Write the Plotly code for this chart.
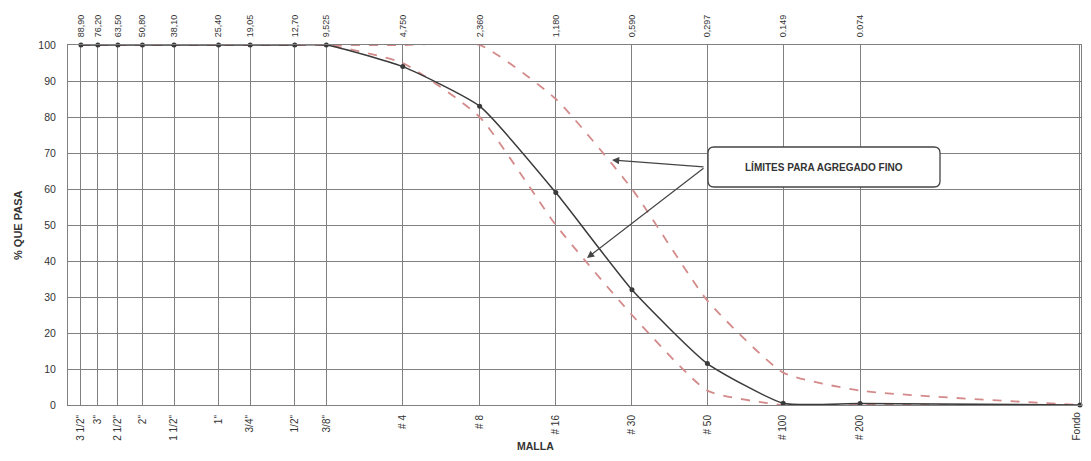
import plotly.graph_objects as go

# Sieve openings (mm) - "Fondo" (pan) placed at 0.01 on the log axis
sizes = [88.90, 76.20, 63.50, 50.80, 38.10, 25.40, 19.05, 12.70, 9.525,
         4.750, 2.360, 1.180, 0.590, 0.297, 0.149, 0.074, 0.01]
size_labels = ["88,90", "76,20", "63,50", "50,80", "38,10", "25,40", "19,05",
               "12,70", "9,525", "4,750", "2,360", "1,180", "0,590", "0,297",
               "0.149", "0.074", ""]
sieve_labels = ['3 1/2"', '3"', '2 1/2"', '2"', '1 1/2"', '1"', '3/4"', '1/2"',
                '3/8"', '# 4', '# 8', '# 16', '# 30', '# 50', '# 100', '# 200',
                'Fondo']

# % passing
passing = [100, 100, 100, 100, 100, 100, 100, 100, 100,
           94, 83, 59, 32, 11.5, 0.5, 0.4, 0]
upper_limit = [100, 100, 100, 100, 100, 100, 100, 100, 100,
               100, 100, 85, 60, 29, 9, 4, 0]
lower_limit = [100, 100, 100, 100, 100, 100, 100, 100, 100,
               95, 80, 50, 25, 4, 0, 0, 0]

annot_text = "LÍMITES PARA AGREGADO FINO"

FONT = "Liberation Sans, Arial, sans-serif"
GRID = "#808080"
LIMIT_COLOR = "#d48a8a"
MAIN_COLOR = "#3a3a3a"
TXT = "#333333"

# page body has an 8px margin; keep the figure inside the window to avoid scrollbars
OFF = 8
W, H = 1091 - 2 * OFF, 461 - 2 * OFF
PLOT_L, PLOT_R, PLOT_T, PLOT_B = 68, 1081, 45, 405   # window pixels
PW, PH = PLOT_R - PLOT_L, PLOT_B - PLOT_T
L, T = PLOT_L - OFF, PLOT_T - OFF

fig = go.Figure()

for lim in (upper_limit, lower_limit):
    fig.add_trace(go.Scatter(x=sizes, y=lim, mode="lines",
                             line=dict(color=LIMIT_COLOR, width=1.8, dash="dash",
                                       shape="spline", smoothing=0.5),
                             hoverinfo="skip", showlegend=False, cliponaxis=False))
fig.add_trace(go.Scatter(x=sizes, y=passing, mode="lines+markers",
                         line=dict(color=MAIN_COLOR, width=1.5, shape="spline", smoothing=0.5),
                         marker=dict(color=MAIN_COLOR, size=5),
                         showlegend=False, cliponaxis=False))
# dummy trace for the top axis
fig.add_trace(go.Scatter(x=sizes, y=passing, xaxis="x2", mode="markers",
                         marker=dict(opacity=0), hoverinfo="skip", showlegend=False))

axis_common = dict(type="log", range=[2, -2.004], tickvals=sizes, tickangle=-90,
                   showline=True, linecolor=GRID, zeroline=False,
                   ticks="outside", ticklen=5, tickcolor="rgba(0,0,0,0)")

# last bottom label (at the right edge) is drawn as an annotation so it is not dropped
bottom_ticktext = sieve_labels[:-1] + [""]

fig.update_layout(
    width=W, height=H,
    margin=dict(l=L, r=W - L - PW, t=T, b=H - T - PH),
    paper_bgcolor="white", plot_bgcolor="white",
    font=dict(family=FONT, color=TXT),
    xaxis=dict(**axis_common, ticktext=bottom_ticktext, showgrid=True, gridcolor=GRID,
               gridwidth=1, mirror=True, tickfont=dict(size=10, color=TXT)),
    xaxis2=dict(**axis_common, ticktext=size_labels, overlaying="x", side="top",
                showgrid=False, tickfont=dict(size=9, color=TXT)),
    yaxis=dict(range=[0, 100], tickvals=list(range(0, 101, 10)), showgrid=True,
               gridcolor=GRID, gridwidth=1, showline=True, linecolor=GRID, mirror=True,
               zeroline=False, ticks="outside", ticklen=9, tickcolor="rgba(0,0,0,0)",
               tickfont=dict(size=10.5, color=TXT)),
)

def px(x):
    return (x - PLOT_L) / PW

def py(y):
    return (PLOT_B - y) / PH

fig.add_annotation(text=sieve_labels[-1], xref="paper", yref="paper", x=px(1076), y=py(410),
                   textangle=-90, showarrow=False, xanchor="center", yanchor="top",
                   font=dict(size=10, family=FONT, color=TXT))

# axis titles
fig.add_annotation(text="<b>% QUE PASA</b>", xref="paper", yref="paper", x=px(18), y=py(225),
                   textangle=-90, showarrow=False, font=dict(size=11, family=FONT, color=TXT),
                   xanchor="center", yanchor="middle")
fig.add_annotation(text="<b>MALLA</b>", xref="paper", yref="paper", x=px(535), y=py(446),
                   showarrow=False, font=dict(size=10.5, family=FONT, color=TXT),
                   xanchor="center", yanchor="middle")

# Rounded callout box
x0, x1 = px(708), px(940)
y0, y1 = py(187), py(147)
rx, ry = 6 / PW, 6 / PH
path = (f"M {x0+rx},{y0} L {x1-rx},{y0} Q {x1},{y0} {x1},{y0+ry} "
        f"L {x1},{y1-ry} Q {x1},{y1} {x1-rx},{y1} L {x0+rx},{y1} Q {x0},{y1} {x0},{y1-ry} "
        f"L {x0},{y0+ry} Q {x0},{y0} {x0+rx},{y0} Z")
fig.add_shape(type="path", path=path, xref="paper", yref="paper",
              line=dict(color="#444444", width=1.3), fillcolor="white", layer="above")
fig.add_annotation(text=f"<b>{annot_text}</b>", xref="paper", yref="paper",
                   x=px(824), y=py(167), showarrow=False, xanchor="center", yanchor="middle",
                   font=dict(size=10, family=FONT, color=TXT))

# Arrows pointing to the limit curves
for tx, ty in [(612, 160), (587, 258)]:
    fig.add_annotation(text="", xref="paper", yref="paper",
                       x=px(tx), y=py(ty),
                       ax=705 - tx, ay=167 - ty, axref="pixel", ayref="pixel",
                       showarrow=True, arrowhead=2, arrowsize=1.2, arrowwidth=1.2,
                       arrowcolor="#444444")

fig.write_html("out.html")
